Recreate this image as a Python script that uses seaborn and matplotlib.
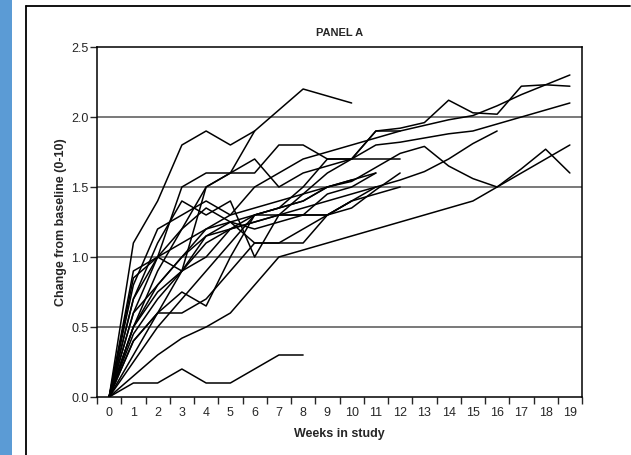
import matplotlib
matplotlib.use("Agg")
import matplotlib.pyplot as plt
from matplotlib import font_manager
from matplotlib.lines import Line2D
from matplotlib.patches import Rectangle
from matplotlib.ticker import MultipleLocator
import seaborn as sns
import pandas as pd

# weekly change from baseline, one list per subject (week 0 first)
weeks = list(range(20))
s01 = [0, 1.1, 1.4, 1.8, 1.9, 1.8, 1.9, 2.05, 2.2, 2.15, 2.1]
s02 = [0, 0.1, 0.1, 0.2, 0.1, 0.1, 0.2, 0.3, 0.3]
s03 = [0, 0.6, 1.0, 1.5, 1.6, 1.6, 1.6, 1.8, 1.8, 1.7, 1.7, 1.9, 1.9]
s04 = [0, 0.9, 1.0, 0.9, 1.5, 1.6, 1.7, 1.5, 1.6, 1.65, 1.7, 1.7, 1.7]
s05 = [0, 0.8, 1.2, 1.3, 1.4, 1.3, 1.5, 1.6, 1.7, 1.75, 1.8, 1.85, 1.9,
       1.94, 1.98, 2.01, 2.08, 2.16, 2.23, 2.3]
s06 = [0, 0.7, 1.0, 1.1, 1.2, 1.25, 1.3, 1.35, 1.5, 1.7, 1.7, 1.9, 1.92,
       1.96, 2.12, 2.03, 2.02, 2.22, 2.23, 2.22]
s07 = [0, 0.5, 0.8, 1.0, 1.2, 1.3, 1.35, 1.4, 1.45, 1.6, 1.7, 1.8, 1.82,
       1.85, 1.88, 1.9, 1.95, 2.0, 2.05, 2.1]
s08 = [0, 0.5, 0.75, 0.9, 1.1, 1.2, 1.25, 1.3, 1.35, 1.4, 1.45, 1.5, 1.55,
       1.61, 1.7, 1.81, 1.9]
s09 = [0, 0.6, 0.8, 1.0, 1.15, 1.2, 1.3, 1.35, 1.4, 1.5, 1.54, 1.64, 1.74,
       1.79, 1.65, 1.56, 1.5, 1.6, 1.7, 1.8]
s10 = [0, 0.15, 0.3, 0.42, 0.5, 0.6, 0.8, 1.0, 1.05, 1.1, 1.15, 1.2, 1.25,
       1.3, 1.35, 1.4, 1.5, 1.63, 1.77, 1.6]
s11 = [0, 0.4, 0.6, 0.6, 0.7, 0.9, 1.1, 1.1, 1.2, 1.3, 1.35, 1.48, 1.6]
s12 = [0, 0.3, 0.6, 0.75, 0.65, 1.0, 1.3, 1.3, 1.3, 1.3, 1.4, 1.45, 1.5]
s13 = [0, 0.7, 1.1, 1.4, 1.3, 1.4, 1.0, 1.3, 1.45, 1.5, 1.55, 1.6]
s14 = [0, 0.5, 0.9, 1.2, 1.35, 1.25, 1.2, 1.25, 1.3, 1.45, 1.5, 1.6]
s15 = [0, 0.45, 0.7, 0.9, 1.0, 1.2, 1.25, 1.3, 1.3, 1.3, 1.4, 1.5]
s16 = [0, 0.4, 0.6, 0.9, 1.15, 1.25, 1.1, 1.1, 1.1, 1.3, 1.4]
s17 = [0, 0.25, 0.5, 0.7, 0.9, 1.1, 1.3, 1.35, 1.4, 1.5, 1.55]
s18 = [0, 0.85, 1.0, 1.2, 1.5, 1.6, 1.9]

subjects = [s01, s02, s03, s04, s05, s06, s07, s08, s09, s10,
            s11, s12, s13, s14, s15, s16, s17, s18]

rows = []
for i, vals in enumerate(subjects):
    for w, v in zip(weeks, vals):
        rows.append({"subject": i, "week": w, "change": v})
df = pd.DataFrame(rows)

sns.set_style("white")
names = {f.name for f in font_manager.fontManager.ttflist}
fam = "Liberation Sans Narrow" if "Liberation Sans Narrow" in names else "Liberation Sans"
plt.rcParams["font.family"] = [fam, "DejaVu Sans"]

fig = plt.figure(figsize=(6.31, 4.55), dpi=100)
ax = fig.add_axes([97 / 631, 1 - 397 / 455, 485 / 631, 350 / 455])

# decoration around the panel: blue side bar and the black frame
fig.patches.append(Rectangle((0, 0), 12 / 631, 1, transform=fig.transFigure,
                             facecolor="#5b9bd5", edgecolor="none"))
fig.lines.append(Line2D([26 / 631, 26 / 631], [0, 1 - 6 / 455],
                        transform=fig.transFigure, color="black", lw=1.3))
fig.lines.append(Line2D([26 / 631, 630 / 631], [1 - 6 / 455, 1 - 6 / 455],
                        transform=fig.transFigure, color="black", lw=1.3))

for y in [0.5, 1.0, 1.5, 2.0]:
    ax.axhline(y, color="#555555", lw=1.1, zorder=1)

sns.lineplot(data=df, x="week", y="change", units="subject", estimator=None,
             color="black", lw=1.1, legend=False, ax=ax, zorder=3)

ax.set_xlim(-0.5, 19.5)
ax.set_ylim(0, 2.5)
ax.xaxis.set_major_locator(MultipleLocator(1))
ax.xaxis.set_minor_locator(MultipleLocator(1, offset=0.5))
ax.yaxis.set_major_locator(MultipleLocator(0.5))
ax.yaxis.set_major_formatter(plt.FormatStrFormatter("%.1f"))
ax.tick_params(axis="x", which="major", length=0, labelsize=9, pad=7)
ax.tick_params(axis="x", which="minor", length=5, width=1, direction="out",
               bottom=True)
ax.tick_params(axis="y", length=5, width=1, direction="out", left=True,
               labelsize=9, pad=1)

for sp in ax.spines.values():
    sp.set_color("black")
    sp.set_linewidth(1.1)

ax.set_title("PANEL A", fontsize=8, fontweight="bold", pad=8)
ax.set_xlabel("Weeks in study", fontsize=9, fontweight="bold")
ax.set_ylabel("Change from baseline (0-10)", fontsize=9, fontweight="bold")
ax.xaxis.set_label_coords(0.5, -0.09)
ax.yaxis.set_label_coords(-0.062, 0.5)

fig.savefig("out.png", dpi=100)
